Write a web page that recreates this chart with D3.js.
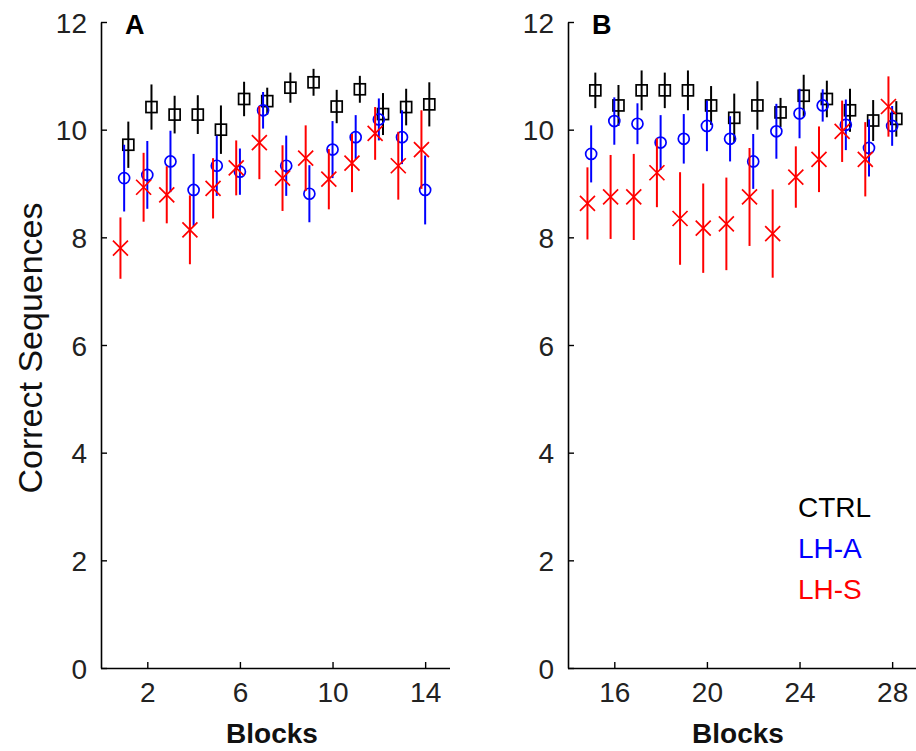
<!DOCTYPE html>
<html>
<head>
<meta charset="utf-8">
<script src="https://cdn.jsdelivr.net/npm/d3@7"></script>
<style>
html,body{margin:0;padding:0;background:#fff;}
svg{display:block;}
text{font-family:"Liberation Sans",Arial,Helvetica,sans-serif;}
</style>
</head>
<body>
<svg id="chart" width="916" height="751"></svg>
<script>
// ---- Data ----
const blocksA = [1,2,3,4,5,6,7,8,9,10,11,12,13,14];
const blocksB = [15,16,17,18,19,20,21,22,23,24,25,26,27,28];

const ctrlA    = [9.72,10.42,10.28,10.28,10.00,10.57,10.53,10.78,10.88,10.43,10.75,10.29,10.42,10.47];
const ctrlAErr = [0.43,0.42,0.35,0.36,0.45,0.32,0.25,0.28,0.25,0.31,0.25,0.39,0.34,0.41];
const lhaA     = [9.10,9.16,9.41,8.88,9.33,9.22,10.36,9.33,8.81,9.63,9.86,10.19,9.86,8.88];
const lhaAErr  = [0.62,0.63,0.57,0.67,0.56,0.43,0.34,0.56,0.53,0.53,0.41,0.39,0.50,0.64];
const lhsA     = [7.80,8.93,8.79,8.14,8.91,9.29,9.76,9.10,9.47,9.08,9.38,9.93,9.33,9.63];
const lhsAErr  = [0.57,0.64,0.53,0.64,0.56,0.51,0.68,0.61,0.61,0.56,0.54,0.49,0.63,0.73];

const ctrlB    = [10.73,10.45,10.73,10.73,10.73,10.45,10.22,10.45,10.32,10.63,10.57,10.36,10.17,10.20];
const ctrlBErr = [0.33,0.38,0.37,0.33,0.37,0.36,0.45,0.45,0.27,0.39,0.34,0.40,0.38,0.33];
const lhaB     = [9.55,10.16,10.11,9.76,9.83,10.07,9.83,9.41,9.97,10.30,10.45,10.09,9.66,10.07];
const lhaBErr  = [0.53,0.44,0.38,0.51,0.46,0.47,0.42,0.51,0.51,0.46,0.30,0.47,0.53,0.37];
const lhsB     = [8.63,8.75,8.75,9.20,8.35,8.17,8.25,8.75,8.07,9.12,9.45,9.97,9.45,10.43];
const lhsBErr  = [0.67,0.78,0.80,0.64,0.86,0.83,0.86,0.91,0.82,0.57,0.61,0.57,0.69,0.56];

const yTicks  = [0,2,4,6,8,10,12];
const xTicksA = [2,6,10,14];
const xTicksB = [16,20,24,28];
const seriesNames = ["CTRL","LH-A","LH-S"];
const seriesColors = ["#000000","#0000ff","#ff0000"];
const seriesOffsets = [0.18,0,-0.16];

// ---- Drawing ----
const svg = d3.select("#chart");
const y = d3.scaleLinear().domain([0,12]).range([668,22]);
const FONT = '"Liberation Sans",Arial,sans-serif';

function panel(opts){
  const x = d3.scaleLinear().domain(opts.xDomain).range(opts.xRange);
  const g = svg.append("g");
  const x0 = opts.xRange[0];

  // y axis
  const yAxis = d3.axisLeft(y).tickValues(yTicks).tickSizeInner(-6).tickSizeOuter(0).tickPadding(14).tickFormat(d3.format("d"));
  const ya = g.append("g").attr("transform",`translate(${x0},0)`).call(yAxis);
  ya.select(".domain").attr("stroke","#000").attr("stroke-width",1.6);
  ya.selectAll(".tick line").attr("stroke","#000").attr("stroke-width",1.4);
  ya.selectAll(".tick text").attr("font-size",28).attr("fill","#222").attr("dy","0.36em")
    .style("font-family",FONT);

  // x axis
  const xAxis = d3.axisBottom(x).tickValues(opts.xTicks).tickSizeInner(-6).tickSizeOuter(0).tickPadding(14).tickFormat(d3.format("d"));
  const xa = g.append("g").attr("transform",`translate(0,668)`).call(xAxis);
  xa.select(".domain").attr("stroke","#000").attr("stroke-width",1.6)
    .attr("d",`M${x0},0.5H${opts.xAxisEnd}`);
  xa.selectAll(".tick line").attr("stroke","#000").attr("stroke-width",1.4);
  xa.selectAll(".tick text").attr("font-size",28).attr("fill","#222").attr("dy","0.71em")
    .style("font-family",FONT);

  // x label
  g.append("text").attr("x",opts.xLabelX).attr("y",743)
    .attr("text-anchor","middle").attr("font-size",28).attr("font-weight","bold")
    .attr("fill","#111").text("Blocks");

  // panel label
  g.append("text").attr("x",x0+24).attr("y",34).attr("font-size",27).attr("font-weight","bold").text(opts.label);

  // series
  opts.series.forEach((s,si)=>{
    const col = seriesColors[si];
    const off = seriesOffsets[si];
    const sg = g.append("g");
    const data = opts.blocks.map((b,i)=>({b:b, v:s.vals[i], e:s.errs[i]}));
    sg.selectAll("line.err").data(data).join("line").attr("class","err")
      .attr("x1",d=>x(d.b+off)).attr("x2",d=>x(d.b+off))
      .attr("y1",d=>y(d.v-d.e)).attr("y2",d=>y(d.v+d.e))
      .attr("stroke",col).attr("stroke-width",2);
    if(si===0){
      sg.selectAll("rect").data(data).join("rect")
        .attr("x",d=>x(d.b+off)-5.5).attr("y",d=>y(d.v)-5.5)
        .attr("width",11).attr("height",11)
        .attr("fill","none").attr("stroke",col).attr("stroke-width",1.7);
    } else if(si===1){
      sg.selectAll("circle").data(data).join("circle")
        .attr("cx",d=>x(d.b+off)).attr("cy",d=>y(d.v)).attr("r",5.5)
        .attr("fill","none").attr("stroke",col).attr("stroke-width",1.7);
    } else {
      sg.selectAll("path.mk").data(data).join("path").attr("class","mk")
        .attr("d",d=>{const cx=x(d.b+off), cy=y(d.v), h=7.5;
          return `M${cx-h},${cy-h}L${cx+h},${cy+h}M${cx-h},${cy+h}L${cx+h},${cy-h}`;})
        .attr("stroke",col).attr("stroke-width",1.7).attr("fill","none");
    }
  });
}

panel({
  label:"A", xDomain:[0,15], xRange:[101,448.3], xAxisEnd:450, xTicks:xTicksA, blocks:blocksA, xLabelX:272,
  series:[{vals:ctrlA,errs:ctrlAErr},{vals:lhaA,errs:lhaAErr},{vals:lhsA,errs:lhsAErr}]
});
panel({
  label:"B", xDomain:[14,29], xRange:[568,915.3], xAxisEnd:916, xTicks:xTicksB, blocks:blocksB, xLabelX:738,
  series:[{vals:ctrlB,errs:ctrlBErr},{vals:lhaB,errs:lhaBErr},{vals:lhsB,errs:lhsBErr}]
});

// y label
svg.append("text").attr("transform","translate(42,348) rotate(-90)")
  .attr("text-anchor","middle").attr("font-size",34).attr("fill","#111").text("Correct Sequences");

// legend
const legY = [517,558,599];
svg.append("g").selectAll("text").data(seriesNames).join("text")
  .attr("x",798).attr("y",(d,i)=>legY[i]).attr("font-size",28)
  .attr("fill",(d,i)=>seriesColors[i]).text(d=>d);
</script>
</body>
</html>
